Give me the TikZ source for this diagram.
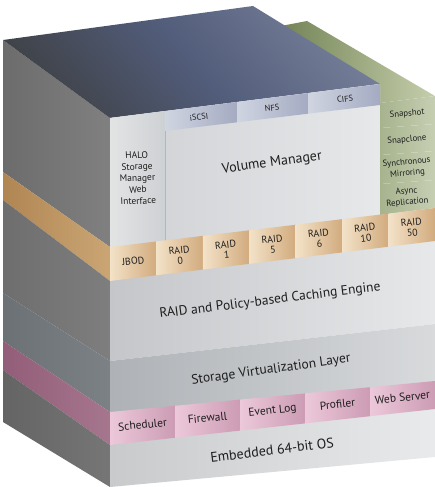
\documentclass[tikz,border=0pt]{standalone}
\usepackage{fontspec}
\setmainfont{PT Sans}
\usetikzlibrary{calc}
\definecolor{txt}{HTML}{1E1E1E}
\definecolor{topA}{HTML}{3F4247}
\definecolor{topB}{HTML}{525D7B}
\definecolor{topC}{HTML}{959DB2}
\pgfdeclarehorizontalshading{topface}{100bp}{color(0bp)=(topA); color(24bp)=(topA); color(50bp)=(topB); color(100bp)=(topC)}
\begin{document}
\begin{tikzpicture}[x=1pt,y=1pt,
  lbl/.style={text=txt, align=center, inner sep=0pt},
  tabtext/.style={lbl, font=\fontsize{8.5}{10}\selectfont, rotate=7},
  greentext/.style={lbl, font=\fontsize{8.8}{11}\selectfont, rotate=5},
  raidtext/.style={lbl, font=\fontsize{10}{10.5}\selectfont, rotate=6},
  pinktext/.style={lbl, font=\fontsize{11.5}{12}\selectfont, rotate=6},
  bigtext/.style={lbl, font=\fontsize{13.5}{16}\selectfont},
  tan/.style={left color={rgb,255:red,243;green,226;blue,200}, right color={rgb,255:red,210;green,171;blue,126}},
  pinkc/.style={left color={rgb,255:red,236;green,200;blue,218}, right color={rgb,255:red,204;green,156;blue,180}},
  greenc/.style={left color={rgb,255:red,166;green,179;blue,141}, right color={rgb,255:red,199;green,207;blue,179}},
  tabc/.style={left color={rgb,255:red,208;green,213;blue,225}, right color={rgb,255:red,164;green,171;blue,194}},
]
\useasboundingbox (0,0) rectangle (435,-487);

% ---------- left face ----------
\shade[left color={rgb,255:red,108;green,108;blue,108}, right color={rgb,255:red,128;green,128;blue,128}]
  (3,-40)--(110,-118)--(110,-247)--(3,-172)--cycle;
\shade[left color={rgb,255:red,176;green,134;blue,83}, right color={rgb,255:red,202;green,166;blue,116}]
  (3,-172)--(110,-247)--(110,-281)--(3,-200)--cycle;
\shade[left color={rgb,255:red,110;green,110;blue,110}, right color={rgb,255:red,126;green,126;blue,126}]
  (3,-200)--(110,-281)--(110,-361)--(3,-293)--cycle;
\shade[left color={rgb,255:red,108;green,113;blue,118}, right color={rgb,255:red,124;green,129;blue,134}]
  (3,-293)--(110,-361)--(110,-412)--(3,-341)--cycle;
\shade[left color={rgb,255:red,146;green,93;blue,120}, right color={rgb,255:red,166;green,118;blue,142}]
  (3,-341)--(110,-412)--(110,-445)--(3,-370)--cycle;
\shade[left color={rgb,255:red,100;green,100;blue,100}, right color={rgb,255:red,118;green,118;blue,118}]
  (3,-370)--(110,-445)--(110,-487)--(3,-422)--cycle;

% ---------- green block top ----------
\shade[left color={rgb,255:red,104;green,122;blue,74}, right color={rgb,255:red,198;green,206;blue,172}]
  (260,-30)--(307,-21)--(435,-96)--(380,-103)--(380,-84)--cycle;

% ---------- top face ----------
\shade[shading=topface, shading angle=40]
  (3,-40)--(253,-6)--(380,-84)--(110,-118)--cycle;

% ---------- upper front block ----------
\shade[left color={rgb,255:red,206;green,208;blue,211}, right color={rgb,255:red,230;green,232;blue,234}]
  (110,-118)--(380,-84)--(380,-225)--(110,-262)--cycle;
\shade[left color={rgb,255:red,226;green,228;blue,228}, right color={rgb,255:red,206;green,209;blue,212}]
  (110,-118)--(165,-111)--(165,-260)--(110,-262)--cycle;
\draw[color={rgb,255:red,180;green,183;blue,187}, line width=0.6pt] (165,-111)--(165,-258);

% tabs
\shade[tabc] (165,-111.1)--(237,-102)--(237,-122.3)--(165,-131)--cycle;
\shade[tabc] (237,-102)--(308,-93.1)--(308,-113.7)--(237,-122.3)--cycle;
\shade[tabc] (308,-93.1)--(380,-84)--(380,-105)--(308,-113.7)--cycle;

% green cells
\shade[greenc] (380,-103)--(435,-96)--(435,-124)--(380,-128)--cycle;
\shade[greenc] (380,-128)--(435,-124)--(435,-151)--(380,-155)--cycle;
\shade[greenc] (380,-155)--(435,-151)--(435,-180)--(380,-184)--cycle;
\shade[greenc] (380,-184)--(435,-180)--(435,-208)--(380,-215)--cycle;

% ---------- lower front bands ----------
\shade[left color={rgb,255:red,196;green,198;blue,201}, right color={rgb,255:red,230;green,232;blue,234}]
  (110,-270)--(435,-232)--(435,-324)--(110,-361)--cycle;
\shade[left color={rgb,255:red,174;green,178;blue,182}, right color={rgb,255:red,216;green,218;blue,220}]
  (110,-361)--(435,-324)--(435,-392)--(110,-422)--cycle;
\shade[left color={rgb,255:red,200;green,202;blue,204}, right color={rgb,255:red,232;green,234;blue,236}]
  (110,-440)--(435,-404)--(435,-457)--(110,-487)--cycle;

% ---------- RAID row ----------
\coordinate (rtL) at (110,-247); \coordinate (rtR) at (435,-208);
\coordinate (rbL) at (110,-281); \coordinate (rbR) at (435,-241);
\coordinate (rmL) at (110,-264); \coordinate (rmR) at (435,-224.5);
\foreach \k/\t in {0/JBOD,1/{RAID\\0},2/{RAID\\1},3/{RAID\\5},4/{RAID\\6},5/{RAID\\10},6/{RAID\\50}}{
  \pgfmathsetmacro{\a}{\k/7}
  \pgfmathsetmacro{\b}{(\k+1)/7}
  \pgfmathsetmacro{\c}{(\k+0.5)/7}
  \shade[tan] ($(rtL)!\a!(rtR)$)--($(rtL)!\b!(rtR)$)--($(rbL)!\b!(rbR)$)--($(rbL)!\a!(rbR)$)--cycle;
  \node[raidtext] (raid\k) at ($(rmL)!\c!(rmR)$) {\t};
}

% ---------- pink row ----------
\coordinate (ptL) at (110,-412); \coordinate (ptR) at (435,-381);
\coordinate (pbL) at (110,-445); \coordinate (pbR) at (435,-409);
\coordinate (pmL) at (110,-428); \coordinate (pmR) at (435,-394);
\foreach \k/\t in {0/Scheduler,1/Firewall,2/Event Log,3/Profiler,4/Web Server}{
  \pgfmathsetmacro{\a}{\k/5}
  \pgfmathsetmacro{\b}{(\k+1)/5}
  \pgfmathsetmacro{\c}{(\k+0.5)/5}
  \shade[pinkc] ($(ptL)!\a!(ptR)$)--($(ptL)!\b!(ptR)$)--($(pbL)!\b!(pbR)$)--($(pbL)!\a!(pbR)$)--cycle;
  \node[pinktext] (pink\k) at ($(pmL)!\c!(pmR)$) {\t};
}

% ---------- texts ----------
\node[lbl, font=\fontsize{9.5}{11.5}\selectfont, rotate=2] (halo) at (137.5,-178) {HALO\\Storage\\Manager\\Web\\Interface};
\node[bigtext, font=\fontsize{14}{16}\selectfont, rotate=8] (vm) at (272,-163) {Volume Manager};
\node[tabtext] (iscsi) at (199,-117) {iSCSI};
\node[tabtext] (nfs) at (272,-108) {NFS};
\node[tabtext] (cifs) at (345,-99) {CIFS};
\node[greentext] (snap) at (407,-114) {Snapshot};
\node[greentext] (clone) at (407,-140) {Snapclone};
\node[greentext] (sync) at (407,-168) {Synchronous\\Mirroring};
\node[greentext] (async) at (407,-197) {Async\\Replication};
\node[bigtext, rotate=7] (cache) at (270,-301) {RAID and Policy-based Caching Engine};
\node[bigtext, rotate=8] (svl) at (271,-370) {Storage Virtualization Layer};
\node[bigtext, font=\fontsize{14}{16}\selectfont, rotate=7] (os) at (272,-450) {Embedded 64-bit OS};
\end{tikzpicture}
\end{document}
